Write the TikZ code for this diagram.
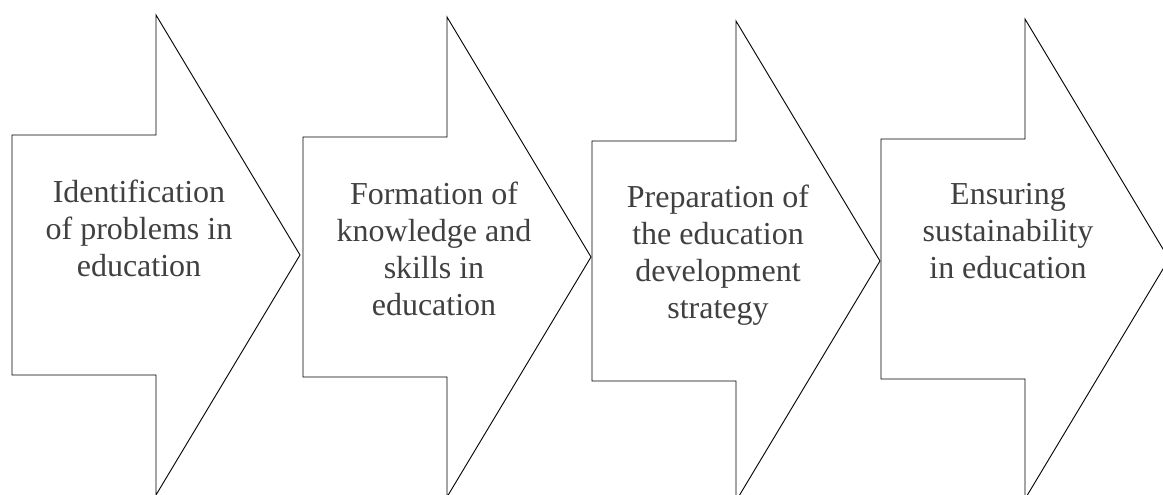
\documentclass[tikz,border=0pt]{standalone}
\usepackage{fontspec}
\setmainfont{Liberation Serif}
\usepackage{tikz}
\definecolor{stagegray}{RGB}{64,64,64}
\tikzset{
  stagearrow/.style={draw=black,line width=0.9pt,fill=white},
  stagetext/.style={anchor=north,inner sep=0pt,align=center,text=stagegray,
    font=\fontsize{32}{37}\selectfont},
}
% block arrow, given the left end of its shaft at tip height
\newcommand{\blockarrow}[1]{%
  \draw[stagearrow] (#1) ++(0,-120) -- ++(144,0) -- ++(0,-120) -- ++(144,240)
    -- ++(-144,240) -- ++(0,-120) -- ++(-144,0) -- cycle;
}

\begin{document}
\begin{tikzpicture}[x=1pt,y=-1pt]
  \useasboundingbox (0,0) rectangle (1163,495);
  \coordinate (a1) at (12,255);
  \coordinate (a2) at (303,257);
  \coordinate (a3) at (592,261);
  \coordinate (a4) at (881,259);
  \foreach \a in {a1,a2,a3,a4} {\blockarrow{\a}}
  \node[stagetext] (t1) at (139,180) {Identification\\of problems in\\education};
  \node[stagetext] (t2) at (434,182) {Formation of\\knowledge and\\skills in\\education};
  \node[stagetext] (t3) at (718,185) {Preparation of\\the education\\development\\strategy};
  \node[stagetext] (t4) at (1008,183) {Ensuring\\sustainability\\in education};
\end{tikzpicture}
\end{document}
